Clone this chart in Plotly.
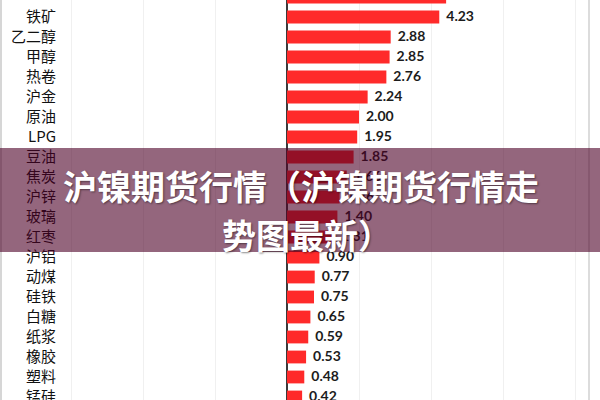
import plotly.graph_objects as go

categories = ["沪镍", "铁矿", "乙二醇", "甲醇", "热卷", "沪金", "原油", "LPG", "豆油", "焦炭",
              "沪锌", "玻璃", "红枣", "沪铝", "动煤", "硅铁", "白糖", "纸浆", "橡胶", "塑料", "锰硅"]
values = [4.42, 4.23, 2.88, 2.85, 2.76, 2.24, 2.00, 1.95, 1.85, 1.66,
          1.46, 1.40, 1.31, 0.90, 0.77, 0.75, 0.65, 0.59, 0.53, 0.48, 0.42]
title_line1 = "沪镍期货行情（沪镍期货行情走"
title_line2 = "势图最新）"

W, H = 600, 400
ML, MR, MT, MB = 60, 11, 0, 0
PW = W - ML - MR
PH = H - MT - MB


def px(x):
    return (x - ML) / PW


def py(y):
    return 1 - (y - MT) / PH


fig = go.Figure()
fig.add_trace(go.Bar(
    x=values, y=categories, orientation="h",
    marker=dict(color="#ff2a2a", line=dict(width=0)),
    hoverinfo="skip",
))
fig.add_trace(go.Scatter(
    x=values, y=categories, mode="text",
    text=["\u2002" + f"{v:.2f}" for v in values],
    textposition="middle right", cliponaxis=False,
    textfont=dict(family="Lato", size=14, color="#1c1c1c", weight="bold"),
    hoverinfo="skip",
))

annotations = []
annotations.append(dict(
    x=px(300.5), y=py(185), xref="paper", yref="paper", text=title_line1, showarrow=False,
    xanchor="center", yanchor="middle",
    font=dict(family="Noto Sans CJK SC", size=34, color="white", weight="bold",
              shadow="1px 1px 2px rgba(0,0,0,0.45)"),
))
annotations.append(dict(
    x=px(307), y=py(234), xref="paper", yref="paper", text=title_line2, showarrow=False,
    xanchor="center", yanchor="middle",
    font=dict(family="Noto Sans CJK SC", size=34, color="white", weight="bold",
              shadow="1px 1px 2px rgba(0,0,0,0.45)"),
))

shapes = [
    dict(type="line", xref="paper", yref="paper", x0=px(1), x1=px(1), y0=0, y1=1,
         line=dict(color="#c8c8c8", width=1.5), layer="above"),
    dict(type="line", xref="paper", yref="paper", x0=px(589), x1=px(589), y0=0, y1=1,
         line=dict(color="#d0d0d0", width=1.5), layer="above"),
    dict(type="rect", xref="paper", yref="paper", x0=px(0), x1=px(600), y0=py(252), y1=py(148),
         fillcolor="rgba(77,0,38,0.6)", line=dict(width=0), layer="above"),
]

zero_px = 287
scale = 36.0
x_min = (ML - zero_px) / scale
x_max = (W - MR - zero_px) / scale

fig.update_layout(
    width=W, height=H,
    margin=dict(l=ML, r=MR, t=MT, b=MB, autoexpand=False),
    paper_bgcolor="white", plot_bgcolor="white",
    showlegend=False,
    bargap=0.36,
    xaxis=dict(range=[x_min, x_max], dtick=2, tick0=0, showgrid=True, gridcolor="#f0f0f0",
               gridwidth=1, zeroline=True, zerolinecolor="#3a3a3a", zerolinewidth=2,
               showticklabels=False, ticks="", automargin=False),
    yaxis=dict(type="category", categoryorder="array", categoryarray=categories,
               range=[20.15, 0.15], showgrid=False, zeroline=False, ticks="", automargin=False,
               ticklabelstandoff=3,
               tickfont=dict(family="Noto Sans CJK SC", size=15, color="#111111")),
    annotations=annotations,
    shapes=shapes,
)

fig.write_html("out.html", config={"displayModeBar": False},
               post_script="document.body.style.margin='0';document.body.style.overflow='hidden';")
